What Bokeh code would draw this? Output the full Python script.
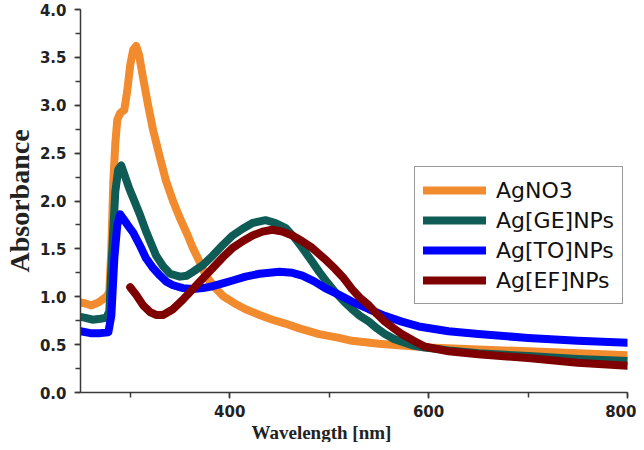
from bokeh.plotting import figure
from bokeh.models import (Range1d, SingleIntervalTicker, NumeralTickFormatter,
                          Legend, LegendItem, Title)
from bokeh.embed import file_html
from bokeh.resources import INLINE

# ---- data ----
agno3_wl = [250, 255, 261, 268, 276, 279, 281, 283, 285, 287, 290, 294, 297, 300, 303, 306,
            309, 313, 318, 323, 330, 336, 343, 350, 357, 363, 370, 376, 385, 393, 405, 416,
            430, 443, 456, 470, 490, 510, 523, 550, 573, 600, 650, 700, 750, 800]
agno3_ab = [0.94, 0.93, 0.91, 0.94, 1.00, 1.05, 1.50, 2.20, 2.60, 2.85, 2.92, 2.95, 3.15, 3.42,
            3.58, 3.62, 3.52, 3.28, 3.00, 2.74, 2.45, 2.21, 2.00, 1.82, 1.66, 1.51, 1.36, 1.22,
            1.10, 1.01, 0.93, 0.87, 0.81, 0.76, 0.72, 0.67, 0.61, 0.57, 0.54, 0.51, 0.49, 0.47,
            0.45, 0.43, 0.41, 0.39]

ge_wl = [250, 255, 262, 270, 276, 279, 282, 285, 288, 291, 295, 299, 303, 310, 316, 322, 326,
         333, 340, 350, 357, 363, 373, 383, 393, 403, 413, 423, 436, 446, 456, 465, 473, 482,
         490, 498, 506, 515, 523, 531, 540, 548, 556, 565, 573, 585, 596, 620, 650, 700, 750, 800]
ge_ab = [0.79, 0.78, 0.76, 0.77, 0.78, 0.85, 1.50, 2.10, 2.33, 2.37, 2.25, 2.13, 2.03, 1.85,
         1.68, 1.53, 1.43, 1.32, 1.24, 1.21, 1.22, 1.26, 1.33, 1.43, 1.54, 1.64, 1.71, 1.77,
         1.80, 1.77, 1.72, 1.62, 1.51, 1.38, 1.26, 1.15, 1.05, 0.95, 0.87, 0.80, 0.74, 0.67,
         0.61, 0.56, 0.53, 0.49, 0.47, 0.44, 0.41, 0.38, 0.35, 0.33]

to_wl = [250, 260, 270, 278, 281, 284, 287, 290, 294, 298, 303, 310, 316, 323, 330, 336, 343,
         353, 363, 373, 383, 393, 403, 416, 430, 450, 463, 473, 485, 496, 510, 523, 540, 556,
         573, 590, 620, 650, 700, 750, 800]
to_ab = [0.64, 0.62, 0.62, 0.63, 0.80, 1.40, 1.75, 1.86, 1.80, 1.74, 1.67, 1.53, 1.40, 1.30,
         1.22, 1.16, 1.12, 1.09, 1.08, 1.09, 1.11, 1.14, 1.17, 1.21, 1.24, 1.26, 1.25, 1.22,
         1.16, 1.09, 1.02, 0.95, 0.87, 0.80, 0.74, 0.69, 0.64, 0.61, 0.57, 0.54, 0.52]

ef_wl = [300, 306, 313, 320, 326, 333, 343, 353, 363, 373, 383, 393, 403, 413, 423, 433, 443,
         453, 463, 473, 483, 495, 506, 515, 523, 531, 540, 548, 556, 565, 573, 585, 596, 620,
         650, 700, 750, 800]
ef_ab = [1.10, 1.02, 0.91, 0.84, 0.81, 0.81, 0.87, 0.97, 1.08, 1.19, 1.30, 1.41, 1.51, 1.58,
         1.64, 1.68, 1.70, 1.68, 1.64, 1.58, 1.51, 1.40, 1.29, 1.19, 1.08, 0.99, 0.91, 0.82,
         0.74, 0.67, 0.61, 0.54, 0.48, 0.43, 0.40, 0.36, 0.31, 0.28]

series_names = ["AgNO3", "Ag[GE]NPs", "Ag[TO]NPs", "Ag[EF]NPs"]
series_colors = ["#F28A2E", "#0E5C55", "#0000FF", "#7F0000"]
series_wl = [agno3_wl, ge_wl, to_wl, ef_wl]
series_ab = [agno3_ab, ge_ab, to_ab, ef_ab]

x_ticks_major = 200
y_ticks_major = 0.5

# ---- figure ----
p = figure(width=636, height=442, output_backend="svg", toolbar_location=None,
           x_range=Range1d(250, 800), y_range=Range1d(0, 4),
           min_border_left=78, min_border_right=9, min_border_top=9, min_border_bottom=49)
p.outline_line_color = None
p.xgrid.visible = False
p.ygrid.visible = False
p.background_fill_color = "white"

axis_col = "#3a3a3a"
p.xaxis.ticker = SingleIntervalTicker(interval=x_ticks_major, num_minor_ticks=2)
p.yaxis.ticker = SingleIntervalTicker(interval=y_ticks_major, num_minor_ticks=2)
p.yaxis.formatter = NumeralTickFormatter(format="0.0")
for ax in (p.xaxis, p.yaxis):
    ax.axis_line_color = axis_col
    ax.axis_line_width = 1.5
    ax.major_tick_line_color = axis_col
    ax.minor_tick_line_color = axis_col
    ax.major_tick_line_width = 1.5
    ax.minor_tick_line_width = 1.5
    ax.major_tick_in = 0
    ax.minor_tick_in = 0
    ax.major_tick_out = 6
    ax.minor_tick_out = 5
    ax.major_label_text_font = "DejaVu Sans"
    ax.major_label_text_font_style = "bold"
    ax.major_label_text_font_size = "15px"
    ax.major_label_text_color = "#222222"
p.yaxis.major_label_standoff = 8
p.xaxis.major_label_standoff = 6

p.yaxis.axis_label = "Absorbance"
p.yaxis.axis_label_text_font = "Liberation Serif"
p.yaxis.axis_label_text_font_style = "bold"
p.yaxis.axis_label_text_font_size = "28px"
p.yaxis.axis_label_text_color = "#222222"
p.yaxis.axis_label_standoff = 2

renderers = []
for wl, ab, col in zip(series_wl, series_ab, series_colors):
    r = p.line(wl, ab, line_color=col, line_width=8, line_join="round", line_cap="round")
    renderers.append(r)

legend = Legend(items=[LegendItem(label=n, renderers=[r]) for n, r in zip(series_names, renderers)],
                location=(334, 88), orientation="vertical",
                label_text_font="DejaVu Sans", label_text_font_size="22px",
                label_text_color="#111111",
                glyph_width=63, glyph_height=30, label_height=30, spacing=0,
                padding=8, margin=0, label_standoff=10,
                border_line_color="#333333", border_line_width=1.5,
                background_fill_color="white", background_fill_alpha=1.0)
p.add_layout(legend, "center")

xtitle = Title(text="Wavelength [nm]", align="left", offset=171, standoff=0,
               text_font="Liberation Serif", text_font_style="bold", text_font_size="19px",
               text_color="#222222")
p.add_layout(xtitle, "below")

open("out.html", "w").write(file_html(p, INLINE))
